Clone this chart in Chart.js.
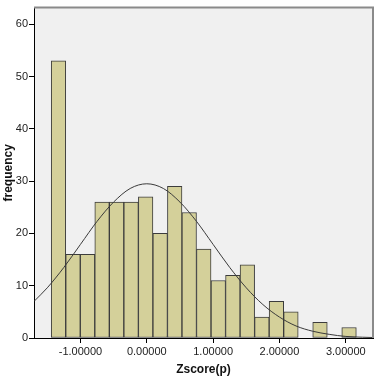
<!doctype html>
<html lang="en">
  <head>
    <meta charset="utf-8">
    <title>Zscore histogram</title>
    <style>
      html, body { margin: 0; padding: 0; background: #fff; }
      #wrap { width: 380px; height: 378px; }
    </style>
  </head>
  <body>
    <div id="wrap">
      <canvas id="myChart" width="380" height="378"></canvas>
    </div>
    <script src="https://cdn.jsdelivr.net/npm/chart.js"></script>
    <script type="text/javascript">
      // histogram bins (centres on the Zscore axis) and their counts
      var binCenters = [-1.331, -1.112, -0.893, -0.674, -0.455, -0.236, -0.017, 0.202, 0.421, 0.640,
                        0.859, 1.078, 1.297, 1.516, 1.735, 1.954, 2.173, 2.392, 2.611, 2.830, 3.049];
      var frequency  = [53, 16, 16, 26, 26, 26, 27, 20, 29, 24,
                        17, 11, 12, 14, 4, 7, 5, 0, 3, 0, 2];

      // normal curve
      var curveX = [-1.70, -1.50, -1.25, -1.00, -0.75, -0.50, -0.25, 0.00, 0.25, 0.50, 0.75,
                    1.00, 1.25, 1.50, 1.75, 2.00, 2.25, 2.50, 2.75, 3.00, 3.25, 3.41];
      var curveY = [7.0, 9.6, 13.5, 17.9, 22.3, 26.0, 28.6, 29.5, 28.6, 26.0, 22.3,
                    17.9, 13.5, 9.6, 6.4, 4.0, 2.3, 1.3, 0.7, 0.3, 0.15, 0.09];

      var xTicks = [-1, 0, 1, 2, 3];
      var yTicks = [0, 10, 20, 30, 40, 50, 60];

      var barData = binCenters.map((x, i) => ({x: x, y: frequency[i]}));
      var lineData = curveX.map((x, i) => ({x: x, y: curveY[i]}));

      // grey plot background plus the grey frame on top/right
      const plotFrame = {
        id: 'plotFrame',
        beforeDraw(chart) {
          const {ctx, chartArea: a} = chart;
          ctx.save();
          ctx.fillStyle = '#f0f0f0';
          ctx.fillRect(a.left, a.top, a.right - a.left, a.bottom - a.top);
          ctx.restore();
        },
        afterDraw(chart) {
          const {ctx, chartArea: a} = chart;
          ctx.save();
          ctx.strokeStyle = '#8a8a8a';
          ctx.lineWidth = 2;
          ctx.beginPath();
          ctx.moveTo(a.left, a.top);
          ctx.lineTo(a.right, a.top);
          ctx.lineTo(a.right, a.bottom);
          ctx.stroke();
          ctx.restore();
        }
      };

      const config = {
        data: {
          datasets: [{
            type: 'bar',
            data: barData,
            backgroundColor: '#d4d09a',
            borderColor: '#3c3c3c',
            borderWidth: 1,
            borderSkipped: false,
            barPercentage: 1,
            categoryPercentage: 1,
            grouped: false,
            order: 2
          }, {
            type: 'line',
            data: lineData,
            borderColor: '#3a3a3a',
            borderWidth: 1,
            pointRadius: 0,
            tension: 0.4,
            cubicInterpolationMode: 'monotone',
            fill: false,
            order: 1
          }]
        },
        options: {
          responsive: false,
          animation: false,
          layout: { padding: { top: 5, right: 7, left: 0, bottom: 0 } },
          plugins: { legend: { display: false }, tooltip: { enabled: false } },
          scales: {
            x: {
              type: 'linear',
              min: -1.70,
              max: 3.41,
              offset: false,
              afterBuildTicks: (s) => { s.ticks = xTicks.map(v => ({value: v})); },
              afterFit: (s) => { s.height = 40; },
              ticks: {
                color: '#222',
                font: { family: 'Liberation Sans', size: 11 },
                padding: 2,
                maxRotation: 0,
                callback: (v) => v.toFixed(5)
              },
              grid: { offset: false, drawOnChartArea: false, tickLength: 5, tickColor: '#000' },
              border: { color: '#000', width: 1 },
              title: {
                display: true,
                text: 'Zscore(p)',
                color: '#111',
                font: { family: 'Liberation Sans', size: 12, weight: 'bold' },
                padding: { top: 0, bottom: 1 }
              }
            },
            y: {
              min: 0,
              max: 63.2,
              afterBuildTicks: (s) => { s.ticks = yTicks.map(v => ({value: v})); },
              afterFit: (s) => { s.width = 34; },
              ticks: {
                color: '#222',
                font: { family: 'Liberation Sans', size: 11 },
                padding: 1
              },
              grid: { drawOnChartArea: false, tickLength: 5, tickColor: '#000' },
              border: { color: '#000', width: 1 },
              title: {
                display: true,
                text: 'frequency',
                color: '#111',
                font: { family: 'Liberation Sans', size: 12, weight: 'bold' },
                padding: { top: 1, bottom: 0 }
              }
            }
          }
        },
        plugins: [plotFrame]
      };

      var myChart = new Chart(document.getElementById('myChart'), config);
    </script>
  </body>
</html>
